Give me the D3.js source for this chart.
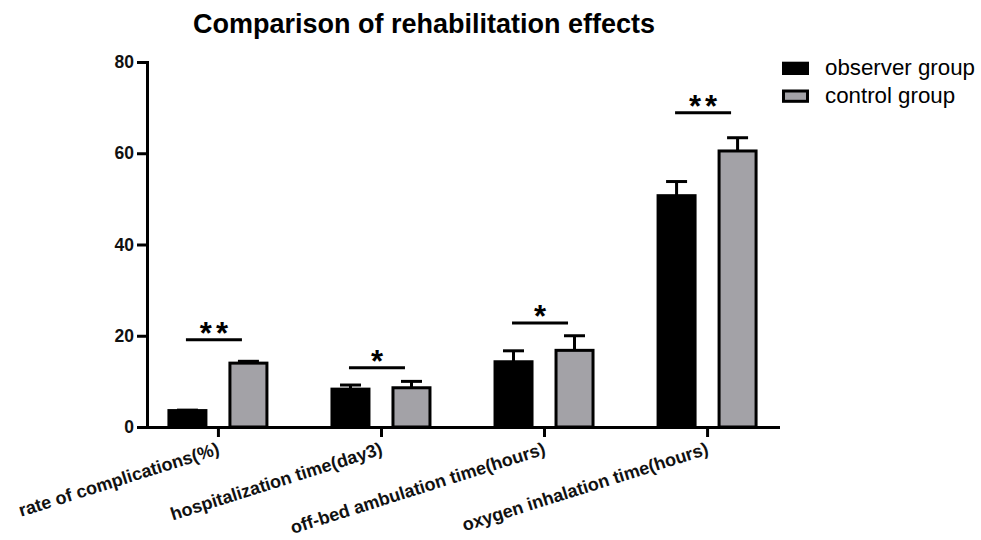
<!DOCTYPE html>
<html>
<head>
<meta charset="utf-8">
<script src="https://cdn.jsdelivr.net/npm/d3@7"></script>
<style>
  html, body { margin: 0; padding: 0; background: #fff; }
  svg { display: block; font-family: "Liberation Sans", Arial, sans-serif; }
</style>
</head>
<body>
<svg id="chart" width="981" height="540"></svg>
<script>
// Outcome categories and group means with upper error (SD) values
const categories = [
  "rate of complications(%)",
  "hospitalization time(day3)",
  "off-bed ambulation time(hours)",
  "oxygen inhalation time(hours)"
];
const observerValues = [3.6, 8.3, 14.3, 50.7];
const observerErrors = [0.1, 0.9, 2.4, 3.1];
const controlValues = [14.0, 8.6, 16.8, 60.5];
const controlErrors = [0.4, 1.4, 3.2, 2.9];
const seriesNames = ["observer group", "control group"];
const seriesColors = ["#000000", "#a3a2a7"];
// Significance brackets: marker text and the level (in y units) of each bar
const sigMarks = ["**", "*", "*", "**"];
const sigLevels = [19.1, 13.0, 22.8, 68.9];
const yTicks = [0, 20, 40, 60, 80];
const titleText = "Comparison of rehabilitation effects";

const svg = d3.select("#chart");

const y = d3.scaleLinear().domain([0, 80]).range([427, 62]);
const x = d3.scalePoint().domain(categories).range([147, 778]).padding(0.435);

const barW = 40;
const barOffset = 30.5;
const stroke = 3;

const series = [
  { name: seriesNames[0], values: observerValues, errors: observerErrors, color: seriesColors[0], dx: -barOffset },
  { name: seriesNames[1], values: controlValues, errors: controlErrors, color: seriesColors[1], dx: barOffset }
];

// Title
svg.append("text")
  .attr("x", 424).attr("y", 33)
  .attr("text-anchor", "middle")
  .attr("font-size", 27).attr("font-weight", "bold")
  .attr("fill", "#000")
  .text(titleText);

// Bars with upward error bars
series.forEach(s => {
  const g = svg.append("g");
  categories.forEach((c, i) => {
    const cx = x(c) + s.dx;
    const v = s.values[i], e = s.errors[i];
    // error stem + cap, drawn first so the bar covers the stem base
    g.append("line")
      .attr("x1", cx).attr("x2", cx)
      .attr("y1", y(v)).attr("y2", y(v + e))
      .attr("stroke", "#000").attr("stroke-width", stroke);
    g.append("line")
      .attr("x1", cx - 10.5).attr("x2", cx + 10.5)
      .attr("y1", y(v + e)).attr("y2", y(v + e))
      .attr("stroke", "#000").attr("stroke-width", stroke);
    g.append("rect")
      .attr("x", cx - barW / 2 + stroke / 2)
      .attr("width", barW - stroke)
      .attr("y", y(v))
      .attr("height", y(0) - y(v))
      .attr("fill", s.color)
      .attr("stroke", "#000")
      .attr("stroke-width", stroke);
  });
});

// Y axis
const yAxis = svg.append("g")
  .attr("transform", "translate(147,0)")
  .call(d3.axisLeft(y).tickValues(yTicks).tickSize(10).tickSizeOuter(0).tickPadding(3));
yAxis.select(".domain").attr("stroke", "#000").attr("stroke-width", stroke).attr("stroke-linecap", "square");
yAxis.selectAll(".tick line").attr("stroke", "#000").attr("stroke-width", stroke);
yAxis.selectAll(".tick text")
  .attr("font-size", 17.5).attr("font-weight", "bold")
  .attr("font-family", "'Liberation Sans', Arial, sans-serif")
  .attr("fill", "#111");

// X axis with rotated category labels
const xAxis = svg.append("g")
  .attr("transform", "translate(0,427)")
  .call(d3.axisBottom(x).tickSize(10).tickSizeOuter(0));
xAxis.select(".domain").attr("stroke", "#000").attr("stroke-width", stroke).attr("stroke-linecap", "square");
xAxis.selectAll(".tick line").attr("stroke", "#000").attr("stroke-width", stroke);
xAxis.selectAll(".tick text")
  .attr("x", 0).attr("y", 0).attr("dy", 0)
  .attr("text-anchor", "end")
  .attr("transform", "translate(2,27) rotate(-17.5)")
  .attr("font-size", 18).attr("font-weight", "bold")
  .attr("font-family", "'Liberation Sans', Arial, sans-serif")
  .attr("fill", "#111");

// Significance brackets
const sig = svg.append("g");
categories.forEach((c, i) => {
  const cx = x(c) - 4;
  const ly = y(sigLevels[i]);
  sig.append("line")
    .attr("x1", cx - 28).attr("x2", cx + 28)
    .attr("y1", ly).attr("y2", ly)
    .attr("stroke", "#000").attr("stroke-width", stroke);
  sig.append("text")
    .attr("x", cx + 2).attr("y", ly + 4)
    .attr("text-anchor", "middle")
    .attr("font-size", 31).attr("font-weight", "bold")
    .attr("letter-spacing", "4px")
    .attr("fill", "#000")
    .text(sigMarks[i]);
});

// Legend
const legend = svg.append("g");
series.forEach((s, i) => {
  const ly = 61.7 + i * 27.8;
  legend.append("rect")
    .attr("x", 782 + stroke / 2).attr("y", ly + stroke / 2)
    .attr("width", 27 - stroke).attr("height", 13.3 - stroke)
    .attr("fill", s.color)
    .attr("stroke", "#000").attr("stroke-width", stroke);
  legend.append("text")
    .attr("x", 825).attr("y", ly + 13.3)
    .attr("font-size", 22.3)
    .attr("fill", "#000")
    .text(s.name);
});
</script>
</body>
</html>
